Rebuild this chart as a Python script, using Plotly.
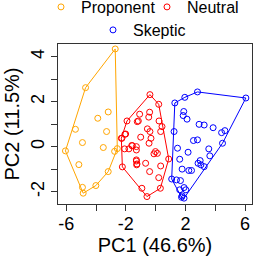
import plotly.graph_objects as go

groups = ["Proponent", "Neutral", "Skeptic"]
colors = ["#FFA500", "#FF0000", "#0000FF"]

prop_x = [-2.71, -4.70, -5.38, -6.05, -4.91, -5.15, -4.91, -4.86, -4.01, -3.18, -2.75, -2.57, -3.88, -3.18, -3.29, -3.51]
prop_y = [4.34, 2.62, 0.77, -0.19, 0.18, -0.80, -1.81, -2.07, -1.73, -1.11, -0.21, -0.09, 1.26, 1.54, 0.67, -0.04]

neut_x = [-0.38, 0.21, -1.92, -1.07, -0.40, -1.23, -0.46, 0.23, 0.43, -0.55, -0.38, -2.01, 0.34, -1.00, -2.26,
          -0.31, -1.56, -1.29, -1.79, -2.08, -1.29, -0.44, -0.01, 0.12, -0.11, 0.88, -1.29, -0.67, -1.25, 0.34,
          -2.23, -0.40, 0.21, -0.92, 0.32, -0.58, -1.16, -2.30, -2.06, -1.29, -1.27, -1.60]
neut_y = [2.31, 1.88, 1.14, 1.44, 1.53, 1.11, 1.31, 1.14, 0.89, 0.79, 0.67, 0.56, 0.67, 0.42, 0.37,
          0.37, 0.04, 0.00, -0.10, -0.10, -0.15, 0.15, -0.22, -0.30, -0.32, -0.55, -0.59, -0.74, -0.77, -0.86,
          -0.90, -1.11, -1.38, -1.85, -1.85, -2.22, 1.14, 0.37, 0.55, -0.64, -0.81, 0.05]

skep_x = [2.81, 6.06, 1.96, 1.29, 1.89, 1.85, 2.11, 2.92, 3.26, 3.86, 4.65, 4.43, 1.24, 2.81, 2.54, 4.49, 1.47,
          3.57, 2.18, 3.64, 1.62, 2.99, 2.85, 3.04, 3.26, 1.78, 2.23, 2.41, 1.08, 1.40, 1.67, 1.91, 1.62, 2.03,
          1.78, 1.91, 1.74]
skep_y = [2.43, 2.16, 2.19, 1.94, 1.56, 1.38, 1.22, 0.99, 0.96, 0.84, 0.71, 0.62, 0.67, 0.30, 0.27, 0.15, -0.07,
          -0.10, -0.25, -0.41, -0.56, -0.62, -0.74, -0.81, -0.89, -1.00, -1.06, -1.06, -1.44, -1.48, -1.51, -1.82,
          -1.92, -1.92, -2.19, -2.29, -2.25]

data = [(prop_x, prop_y), (neut_x, neut_y), (skep_x, skep_y)]


def convex_hull(xs, ys):
    pts = sorted(set(zip(xs, ys)))

    def cross(o, a, b):
        return (a[0] - o[0]) * (b[1] - o[1]) - (a[1] - o[1]) * (b[0] - o[0])

    lower, upper = [], []
    for p in pts:
        while len(lower) >= 2 and cross(lower[-2], lower[-1], p) <= 0:
            lower.pop()
        lower.append(p)
    for p in reversed(pts):
        while len(upper) >= 2 and cross(upper[-2], upper[-1], p) <= 0:
            upper.pop()
        upper.append(p)
    hull = lower[:-1] + upper[:-1]
    hull.append(hull[0])
    return [p[0] for p in hull], [p[1] for p in hull]


fig = go.Figure()
legends = ["legend", "legend2", "legend3"]
for name, col, (xs, ys), lg in zip(groups, colors, data, legends):
    hx, hy = convex_hull(xs, ys)
    fig.add_trace(go.Scatter(x=hx, y=hy, mode="lines", line=dict(color=col, width=1),
                             showlegend=False, hoverinfo="skip"))
    fig.add_trace(go.Scatter(x=xs, y=ys, mode="markers", name=name, legend=lg,
                             marker=dict(symbol="circle-open", size=6, color=col, line=dict(width=1))))

font = "Liberation Sans, Arial, Helvetica, sans-serif"
x_ticks = [-6, -4, -2, 0, 2, 4, 6]
x_labels = ["-6", "", "-2", "", "2", "", "6"]
y_ticks = [-2, -1, 0, 1, 2, 3, 4]
y_labels = ["-2", "", "0", "", "2", "", "4"]


def leg(xpix, ypix):
    return dict(orientation="h", x=xpix / 255, xanchor="left", xref="container",
                y=1 - ypix / 260, yanchor="middle", yref="container",
                font=dict(size=16), itemwidth=30, bgcolor="rgba(0,0,0,0)")


fig.update_layout(
    template="none",
    width=255, height=260,
    margin=dict(l=58, r=3, t=44, b=56, autoexpand=False),
    plot_bgcolor="white", paper_bgcolor="white",
    font=dict(family=font, color="black"),
    showlegend=True,
    legend=leg(41, 7),
    legend2=leg(147, 7),
    legend3=leg(93, 30),
    xaxis=dict(range=[-6.55, 6.47], tickvals=x_ticks, ticktext=x_labels, automargin=False,
               showgrid=False, zeroline=False, showline=True, mirror=True,
               linecolor="#333", linewidth=1, ticks="outside", ticklen=6, tickcolor="#333",
               ticklabelstandoff=-3,
               tickfont=dict(size=18), title=dict(text="PC1 (46.6%)", font=dict(size=20), standoff=2)),
    yaxis=dict(range=[-2.55, 4.56], tickvals=y_ticks, ticktext=y_labels, tickangle=-90, automargin=False,
               showgrid=False, zeroline=False, showline=True, mirror=True,
               linecolor="#333", linewidth=1, ticks="outside", ticklen=6, tickcolor="#333",
               tickfont=dict(size=18), title=dict(text="PC2 (11.5%)", font=dict(size=20), standoff=2)),
)

fig.write_html("out.html", config={"displayModeBar": False},
               post_script="document.body.style.margin='0';document.body.style.overflow='hidden';")
